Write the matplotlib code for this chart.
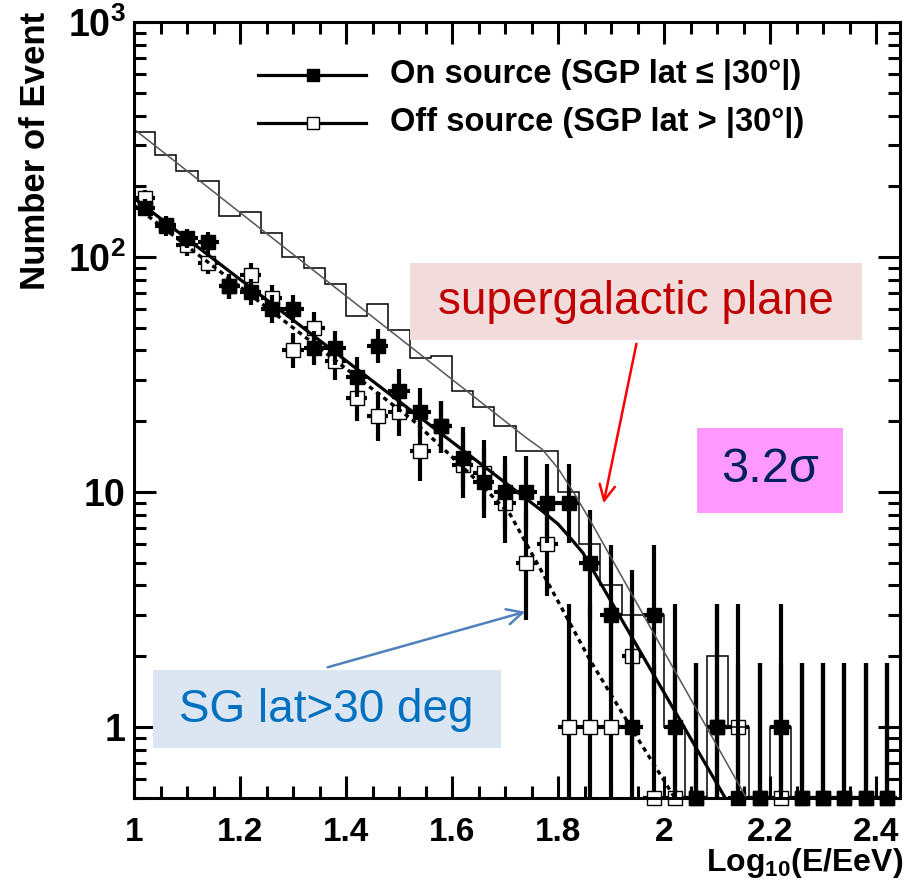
import numpy as np
import matplotlib
matplotlib.use("Agg")
import matplotlib.pyplot as plt
from matplotlib.patches import Rectangle, FancyArrowPatch
from matplotlib.lines import Line2D
from matplotlib.ticker import FixedLocator, FixedFormatter, LogLocator, MultipleLocator, NullFormatter

plt.rcParams['font.family'] = ['Liberation Sans', 'DejaVu Sans']
plt.rcParams['mathtext.fontset'] = 'custom'
plt.rcParams['mathtext.rm'] = 'Liberation Sans:bold'
plt.rcParams['mathtext.it'] = 'Liberation Sans:bold'
plt.rcParams['mathtext.bf'] = 'Liberation Sans:bold'
plt.rcParams['mathtext.default'] = 'regular'

# ---------------- data ----------------
bin_centers = [1.02, 1.06, 1.10, 1.14, 1.18, 1.22, 1.26, 1.30, 1.34, 1.38,
               1.42, 1.46, 1.50, 1.54, 1.58, 1.62, 1.66, 1.70, 1.74, 1.78,
               1.82, 1.86, 1.90, 1.94, 1.98, 2.02, 2.06, 2.10, 2.14, 2.18,
               2.22, 2.26, 2.30, 2.34, 2.38, 2.42]
bin_half_width = 0.02

on_counts = [162, 135, 120, 116, 75, 71, 60, 60, 41, 41,
             31, 42, 27, 22, 19, 14, 11, 10, 10, 9,
             9, 5, 3, 1, 3, 1, 0, 1, 0, 0,
             1, 0, 0, 0, 0, 0]

off_counts = [179, 137, 112, 94, 75, 84, 67, 40, 50, 36,
              25, 21, 22, 15, 19, 13, 12, 9, 5, 6,
              1, 1, 1, 2, 0, 0, 0, 1, 1, 0,
              0, 0, 0, 0, 0, 0]

total_counts = [340, 272, 233, 211, 150, 155, 126, 100, 90, 77,
                56, 63, 49, 37, 38, 27, 23, 19, 15, 15,
                10, 6, 4, 3, 3, 1, 0, 2, 1, 0,
                1, 0, 0, 0, 0, 0]

# fitted curves (knots)
fit_total_x = [1.00, 1.74, 1.77, 1.80, 1.83, 1.86, 2.155]
fit_total_y = [350, 17.0, 15.2, 12.6, 9.9, 7.6, 0.5]

fit_on_x = [1.00, 1.77, 1.80, 1.825, 1.847, 2.115]
fit_on_y = [178, 8.3, 7.3, 6.3, 5.5, 0.5]

fit_off_x = [1.00, 1.30, 1.526, 1.586, 1.65, 1.71, 1.785, 1.86, 1.948, 2.02]
fit_off_y = [166, 50, 20.2, 15.1, 11.0, 8.0, 3.95, 1.93, 0.91, 0.5]

YMIN, YMAX = 0.5, 1000
XMIN, XMAX = 1.0, 2.445

def poisson_band(counts):
    n = np.asarray(counts, dtype=float)
    upper = n + 1.0 + np.sqrt(n + 0.75)
    safe = np.where(n > 0, n, 1.0)
    lower = np.where(n > 0, safe * (1 - 1 / (9 * safe) - 1 / (3 * np.sqrt(safe))) ** 3, 1e-3)
    y = np.where(n > 0, n, YMIN)
    return y, np.vstack([y - np.maximum(lower, 1e-3), upper - y])

# ---------------- figure ----------------
W, H = 906, 883
fig = plt.figure(figsize=(W / 100, H / 100), dpi=100)
ax_l, ax_r, ax_t, ax_b = 134, 900, 22, 797.7
ax = fig.add_axes([ax_l / W, 1 - ax_b / H, (ax_r - ax_l) / W, (ax_b - ax_t) / H])
ax.set_yscale('log')
ax.set_xlim(XMIN, XMAX)
ax.set_ylim(YMIN, YMAX)

xc = np.asarray(bin_centers)
edges = np.append(xc - bin_half_width, xc[-1] + bin_half_width)
tot = np.asarray(total_counts, dtype=float)
ax.stairs(np.where(tot > 0, tot, 1e-3), edges, baseline=None, color='black', lw=1.1, zorder=4)

ax.plot(fit_total_x, fit_total_y, color='#555555', lw=1.1, zorder=4)
ax.plot(fit_on_x, fit_on_y, color='black', lw=2.3, zorder=4)
ax.plot(fit_off_x, fit_off_y, color='black', lw=2.4, ls=(0, (1.4, 1.3)), zorder=4)

def draw_series(counts, face, z):
    y, e = poisson_band(counts)
    cont = ax.errorbar(xc, y, yerr=e, xerr=bin_half_width, fmt='s', ms=9.5,
                       mfc=face, mec='black', mew=1.0, ecolor='black', elinewidth=3.0,
                       capsize=0, zorder=z)
    data_line, caps, bars = cont.lines
    data_line.set_clip_on(False)
    for b in bars:
        b.set_clip_on(True)

draw_series(off_counts, 'white', 2)
draw_series(on_counts, 'black', 3)

# axes styling
for sp in ax.spines.values():
    sp.set_linewidth(2.2)
    sp.set_zorder(8)
ax.xaxis.set_major_locator(MultipleLocator(0.2))
ax.xaxis.set_minor_locator(MultipleLocator(0.05))
ax.yaxis.set_major_locator(FixedLocator([1, 10, 100, 1000]))
ax.yaxis.set_major_formatter(FixedFormatter(['1', '10', '10$^{2}$', '10$^{3}$']))
ax.yaxis.set_minor_locator(LogLocator(base=10, subs=np.arange(2, 10)))
ax.yaxis.set_minor_formatter(NullFormatter())
ax.tick_params(which='both', direction='in', top=True, right=True, width=2.2)
ax.tick_params(which='major', length=16)
ax.tick_params(which='minor', length=8.5)
ax.tick_params(axis='x', pad=14)
ax.tick_params(axis='y', pad=6)
xticks = [1.0, 1.2, 1.4, 1.6, 1.8, 2.0, 2.2, 2.4]
ax.set_xticks(xticks)
ax.set_xticklabels(['1', '1.2', '1.4', '1.6', '1.8', '2', '2.2', '2.4'])
for lab in ax.get_xticklabels():
    lab.set_fontweight('bold')
    lab.set_fontsize(24)
for lab in ax.get_yticklabels():
    lab.set_fontweight('bold')
    lab.set_fontsize(27)

# axis titles
fig.text(36 / W, 1 - 12 / H, 'Number of Event', rotation=90, ha='center', va='top',
         fontsize=25, fontweight='bold')
fig.text(903 / W, 1 - 871 / H, r'Log$_{10}$(E/EeV)', ha='right', va='baseline',
         fontsize=23, fontweight='bold')

# legend (manual)
def axfrac(px, py):
    return (px - ax_l) / (ax_r - ax_l), (ax_b - py) / (ax_b - ax_t)

for py, face, label in [(75, 'black', 'On source (SGP lat \u2264 |30\u00b0|)'),
                        (123, 'white', 'Off source (SGP lat > |30\u00b0|)')]:
    x0, yy = axfrac(258, py)
    x1, _ = axfrac(366, py)
    xm, _ = axfrac(313, py)
    ax.add_line(Line2D([x0, x1], [yy, yy], transform=ax.transAxes, color='black', lw=2.3, zorder=6))
    ax.add_line(Line2D([xm], [yy], transform=ax.transAxes, marker='s', ms=8, mfc=face,
                       mec='black', mew=1.0, zorder=7))
    tx, _ = axfrac(390, py)
    ax.text(tx, yy, label, transform=ax.transAxes, ha='left', va='center',
            fontsize=23.5, fontweight='bold', zorder=7)

# annotation boxes
def add_box(x0, y0, x1, y1, color):
    fig.add_artist(Rectangle((x0 / W, 1 - y1 / H), (x1 - x0) / W, (y1 - y0) / H,
                             transform=fig.transFigure, facecolor=color, edgecolor='none', zorder=5))

add_box(410, 263, 862, 340, '#F2DCDB')
fig.text(636 / W, 1 - 302 / H, 'supergalactic plane', ha='center', va='center',
         fontsize=33, color='#C00000', zorder=6)
add_box(697, 428, 843, 513, '#FF99FF')
fig.text(770 / W, 1 - 470 / H, '3.2\u03c3', ha='center', va='center',
         fontsize=35, color='#002060', zorder=6)
add_box(153, 670, 501, 748, '#DCE6F2')
fig.text(326 / W, 1 - 710 / H, 'SG lat>30 deg', ha='center', va='center',
         fontsize=33, color='#0070C0', zorder=6)

fig.add_artist(FancyArrowPatch((637 / W, 1 - 341 / H), (603 / W, 1 - 506 / H),
                               transform=fig.transFigure, arrowstyle='->', mutation_scale=28,
                               color='#FF0000', lw=1.8, zorder=6))
fig.add_artist(FancyArrowPatch((325 / W, 1 - 668 / H), (528 / W, 1 - 611 / H),
                               transform=fig.transFigure, arrowstyle='->', mutation_scale=28,
                               color='#4F81BD', lw=1.8, zorder=6))

fig.savefig('out.png', dpi=100)
